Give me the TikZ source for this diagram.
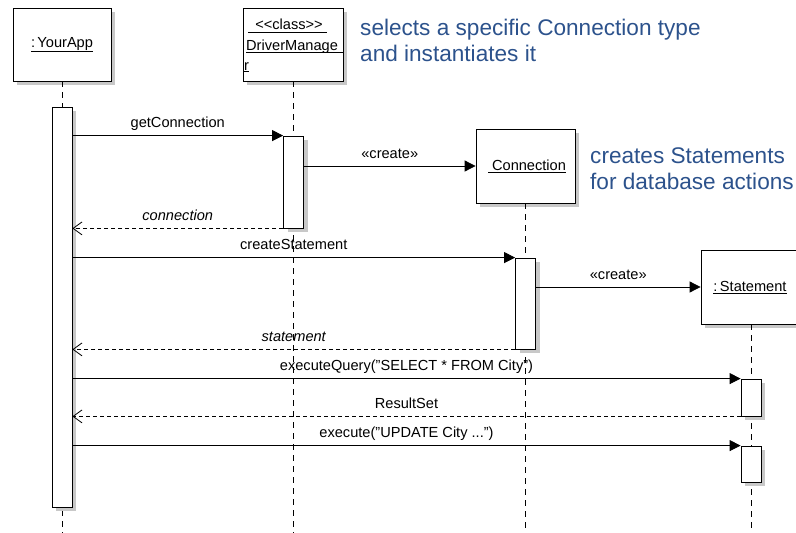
\documentclass[tikz,border=0pt]{standalone}
\usepackage{fontspec}
\setmainfont{Liberation Sans}
\usetikzlibrary{arrows.meta,shadows}
\definecolor{noteblue}{RGB}{44,82,140}
\definecolor{shade}{RGB}{200,200,200}
\begin{document}
\begin{tikzpicture}[x=1pt,y=-1pt,
  lbl/.style={font=\fontsize{14.6}{16}\selectfont, inner sep=0pt},
  obj/.style={draw, fill=white, line width=0.8pt, inner sep=0pt,
    drop shadow={shadow xshift=4pt, shadow yshift=-4pt, fill=shade, opacity=1}},
  actbox/.style={obj, minimum width=20pt},
  lifeline/.style={line width=0.9pt, dash pattern=on 6pt off 5pt},
  call/.style={line width=0.8pt, -{Triangle[length=11pt,width=11pt]}},
  reply/.style={line width=0.8pt, dash pattern=on 4pt off 3pt, -{Straight Barb[length=9pt,width=13pt,line width=0.8pt]}},
  msglbl/.style={lbl, midway, anchor=base, yshift=8pt},
  note/.style={font=\fontsize{22.6}{26}\selectfont, text=noteblue, inner sep=0pt, anchor=base west, align=left}
]
\useasboundingbox (0,0) rectangle (796,533);

% object boxes
\node[obj, minimum width=98pt, minimum height=73pt] (ya) at (62,44.5) {};
\node[obj, minimum width=100pt, minimum height=73pt] (dm) at (293,44.5) {};
\node[obj, minimum width=99pt, minimum height=74pt] (cn) at (525.5,166) {};
\node[obj, minimum width=100pt, minimum height=74pt] (st) at (751,287) {};

% box texts
\node[lbl] (yat) at (62,44.5) {\underline{:\,YourApp}};
\node[lbl, anchor=base] (dmt1) at (289,29.5) {<{}<class>{}>};
\draw[line width=0.7pt] (248,32.5) -- (327,32.5);
\node[lbl, anchor=base west] (dmt2) at (246,50) {DriverManage};
\draw[line width=0.7pt] (246,52.5) -- (dm.east |- 0,52.5);
\node[lbl, anchor=base west] (dmt3) at (244,70) {\underline{r}};
\node[lbl] (cnt) at (527,166) {\underline{ Connection}};
\node[lbl] (stt) at (750,287.5) {\underline{:\,Statement}};

% lifelines
\draw[lifeline] (ya.south) -- (62,533);
\draw[lifeline] (dm.south) -- (293,533);
\draw[lifeline] (cn.south) -- (525.5,533);
\draw[lifeline] (st.south) -- (751,533);

% activations
\node[actbox, minimum height=400pt] (yaa) at (62,307) {};
\node[actbox, minimum height=92pt] (dma) at (293.5,182) {};
\node[actbox, minimum height=91pt] (cna) at (525.5,303.5) {};
\node[actbox, minimum height=37pt] (sta1) at (751,397.5) {};
\node[actbox, minimum height=36pt] (sta2) at (751,464) {};

% messages
\draw[call] (yaa.east |- dma.north) -- (dma.north west) node[msglbl] {getConnection};
\draw[call] (dma.east |- cn.west) -- (cn.west) node[msglbl] {«create»};
\draw[reply] (dma.south west) -- (yaa.east |- dma.south) node[msglbl] {\itshape connection};
\draw[call] (yaa.east |- cna.north) -- (cna.north west) node[msglbl] {createStatement};
\draw[call] (cna.east |- st.west) -- (st.west) node[msglbl] {«create»};
\draw[reply] (cna.south west) -- (yaa.east |- cna.south) node[msglbl] {\itshape statement};
\draw[call] (yaa.east |- sta1.north) -- (sta1.north west) node[msglbl] {executeQuery("SELECT * FROM City")};
\draw[reply] (sta1.south west) -- (yaa.east |- sta1.south) node[msglbl] {ResultSet};
\draw[call] (yaa.east |- sta2.north) -- (sta2.north west) node[msglbl] {execute("UPDATE City ...")};

% notes
\node[note] (n1) at (360,61) {selects a specific Connection type\\and instantiates it};
\node[note] (n2) at (590,189) {creates Statements\\for database actions};
\end{tikzpicture}
\end{document}
